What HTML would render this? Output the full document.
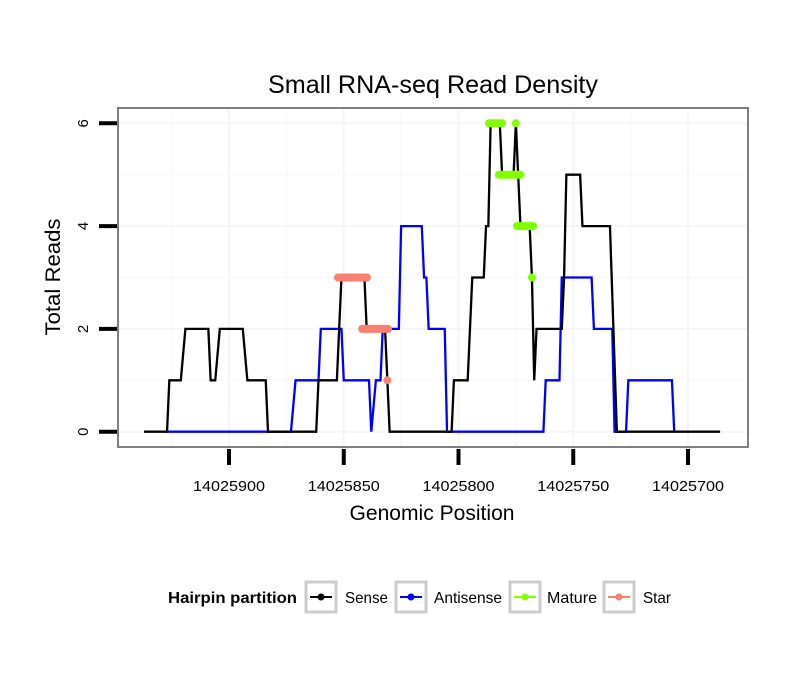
<!DOCTYPE html>
<html><head><meta charset="utf-8"><style>
body{margin:0;background:#fff;}
svg text{font-family:"Liberation Sans",sans-serif;}
</style></head><body>
<svg id="chart" width="810" height="690" viewBox="0 0 810 690" xmlns="http://www.w3.org/2000/svg">
<rect width="810" height="690" fill="#fff"/>
<text x="433" y="93" font-size="25" text-anchor="middle" textLength="330" lengthAdjust="spacingAndGlyphs">Small RNA-seq Read Density</text>
<g id="grid"></g>
<g id="series"></g>
<rect x="118" y="108" width="630" height="339" fill="none" stroke="#7f7f7f" stroke-width="2"/>
<g id="axes"></g>
<text x="432" y="520" font-size="21" text-anchor="middle" textLength="165" lengthAdjust="spacingAndGlyphs">Genomic Position</text>
<text transform="translate(60,277) rotate(-90)" font-size="21" text-anchor="middle" textLength="117" lengthAdjust="spacingAndGlyphs">Total Reads</text>
<g>
<text x="168" y="603" font-size="16" font-weight="bold" textLength="129" lengthAdjust="spacingAndGlyphs">Hairpin partition</text>
<g><rect x="306" y="582" width="30" height="30" fill="none" stroke="#cccccc" stroke-width="3"/><line x1="310" y1="597" x2="332" y2="597" stroke="#000" stroke-width="2"/><circle cx="321" cy="597" r="3.5" fill="#000"/><text x="345" y="603" font-size="16" textLength="43" lengthAdjust="spacingAndGlyphs">Sense</text></g>
<g><rect x="396" y="582" width="30" height="30" fill="none" stroke="#cccccc" stroke-width="3"/><line x1="400" y1="597" x2="422" y2="597" stroke="#0000ff" stroke-width="2"/><circle cx="411" cy="597" r="3.5" fill="#0000ff"/><text x="434" y="603" font-size="16" textLength="68" lengthAdjust="spacingAndGlyphs">Antisense</text></g>
<g><rect x="510" y="582" width="30" height="30" fill="none" stroke="#cccccc" stroke-width="3"/><line x1="514" y1="597" x2="536" y2="597" stroke="#7fff00" stroke-width="2"/><circle cx="525" cy="597" r="3.5" fill="#7fff00"/><text x="547" y="603" font-size="16" textLength="50" lengthAdjust="spacingAndGlyphs">Mature</text></g>
<g><rect x="604" y="582" width="30" height="30" fill="none" stroke="#cccccc" stroke-width="3"/><line x1="608" y1="597" x2="630" y2="597" stroke="#fa8072" stroke-width="2"/><circle cx="619" cy="597" r="3.5" fill="#fa8072"/><text x="643" y="603" font-size="16" textLength="28" lengthAdjust="spacingAndGlyphs">Star</text></g>
</g>
</svg>
<script>
const BASE = 14025900;
const xTicks = [14025900, 14025850, 14025800, 14025750, 14025700];
const yTicks = [0, 2, 4, 6];
const senseOffsets = [37,27,26,21,19,9,8,6,4,-6,-8,-16,-17,-38,-39,-47,-49,-59,-60,-68,-70,-97,-98,-104,-106,-111,-112,-113,-114,-118,-119,-124,-125,-126,-127,-131,-132,-133,-134,-145,-146,-147,-153,-154,-166,-169,-214];
const senseValues = [0,0,1,1,2,2,1,1,2,2,1,1,0,0,1,1,3,3,2,2,0,0,1,1,3,3,4,4,6,6,5,5,6,5,4,4,3,1,2,2,3,5,5,4,4,0,0];
const antiOffsets = [27,-27,-29,-39,-40,-49,-50,-61,-62,-64,-66,-67,-74,-75,-84,-85,-86,-87,-94,-95,-137,-138,-144,-145,-158,-159,-167,-168,-173,-174,-193,-194];
const antiValues = [0,0,1,1,2,2,1,1,0,1,1,2,2,4,4,3,3,2,2,0,0,1,1,3,3,2,2,0,0,1,1,0];
const matureStart = [-113.3,-125,-117.6,-125.5,-132];
const matureEnd = [-119,-125,-127,-132.5,-132];
const matureValues = [6,6,5,4,3];
const starStart = [-47.5,-58,-69];
const starEnd = [-60.1,-69.3,-69];
const starValues = [3,2,1];

const X = p => 229 + (BASE - p) * 2.295;
const Y = v => 431.7 - v * 51.4;
const NS = "http://www.w3.org/2000/svg";
function mk(tag, parent, attrs){const e=document.createElementNS(NS,tag);for(const k in attrs)e.setAttribute(k,attrs[k]);parent.appendChild(e);return e;}
const grid=document.getElementById('grid'), axes=document.getElementById('axes'), series=document.getElementById('series');

for(let i=0;i<xTicks.length;i++){
  const x=X(xTicks[i]);
  const g=mk('line',grid,{x1:x,x2:x,y1:108,y2:447,stroke:'#f5f5f5','stroke-width':2});
  
  
  if(i<xTicks.length-1){const xm=X(xTicks[i]-25);const m=mk('line',grid,{x1:xm,x2:xm,y1:108,y2:447,stroke:'#fafafa','stroke-width':2});
    
    }
  const t=mk('line',axes,{x1:x,x2:x,y1:449,y2:465,stroke:'#000','stroke-width':4});
  
  
  const l=mk('text',axes,{x:x,y:491,'font-size':15,'text-anchor':'middle',textLength:72,lengthAdjust:'spacingAndGlyphs'});l.textContent=xTicks[i];
  
  
}
{const xm=X(xTicks[0]+25);const m=mk('line',grid,{x1:xm,x2:xm,y1:108,y2:447,stroke:'#fafafa','stroke-width':2});
 
 }
for(let i=0;i<yTicks.length;i++){
  const y=Y(yTicks[i]);
  const g=mk('line',grid,{x1:118,x2:748,y1:y,y2:y,stroke:'#f5f5f5','stroke-width':2});
  
  
  if(i<yTicks.length-1){const ym=Y(yTicks[i]+1);const m=mk('line',grid,{x1:118,x2:748,y1:ym,y2:ym,stroke:'#fafafa','stroke-width':2});
    
    }
  const t=mk('line',axes,{x1:99,x2:117,y1:y,y2:y,stroke:'#000','stroke-width':4});
  
  
  const l=mk('text',axes,{transform:`translate(88,${y}) rotate(-90)`,'font-size':15,'text-anchor':'middle'});l.textContent=yTicks[i];
  
  
}
function line(offs, vals, color, name){
  const pts=offs.map((o,i)=>X(BASE+o)+','+Y(vals[i])).join(' ');
  const p=mk('polyline',series,{points:pts,fill:'none',stroke:color,'stroke-width':2.3,'stroke-linejoin':'miter'});
  
  
}
line(antiOffsets, antiValues, '#0000ff', 'antisense-line');
line(senseOffsets, senseValues, '#000000', 'sense-line');
function segs(s,e,v,color,name){
  for(let i=0;i<s.length;i++){
    const l=mk('line',series,{x1:X(BASE+s[i]),x2:X(BASE+e[i]),y1:Y(v[i]),y2:Y(v[i]),stroke:color,'stroke-width':8,'stroke-linecap':'round'});
    
    
  }
}
segs(starStart, starEnd, starValues, '#fa8072', 'star-segment');
segs(matureStart, matureEnd, matureValues, '#7fff00', 'mature-segment');
</script>
</body></html>
